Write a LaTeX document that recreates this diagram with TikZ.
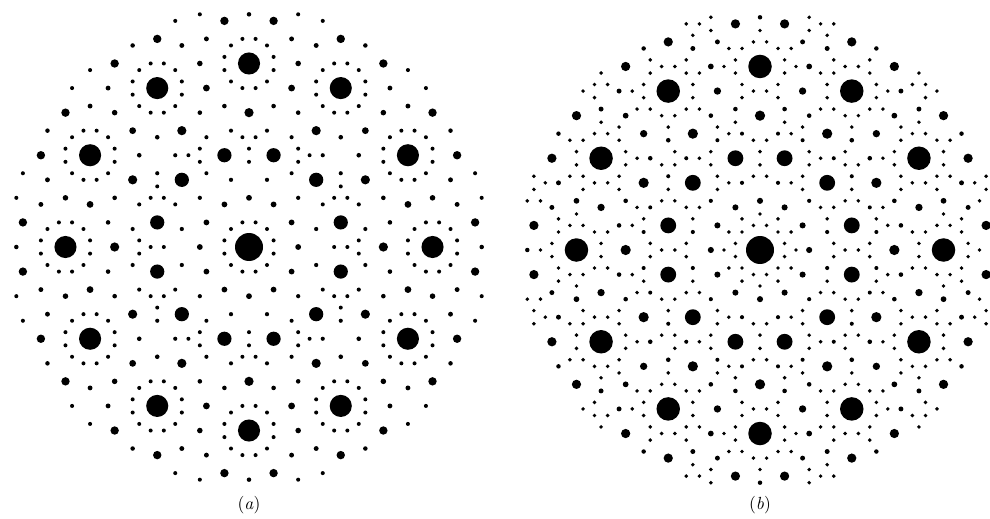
\documentclass[tikz,border=0pt]{standalone}
\usepackage{tikz}
\tikzset{
  spot/.style={fill=black},
  panellabel/.style={font=\fontsize{10}{12}\selectfont, inner sep=0pt}
}

\begin{document}
\begin{tikzpicture}[x=0.2mm, y=-0.2mm]
  \useasboundingbox (0,0) rectangle (990,519);

  % points of the 12-fold Fourier module: basis at 15+30k degrees
  \foreach \i in {-4,...,4}{
    \foreach \j in {-4,...,4}{
      \foreach \k in {-4,...,4}{
        \foreach \l in {-4,...,4}{
          \pgfmathsetmacro\px{0.9659*\i+0.7071*\j+0.2588*\k-0.2588*\l}
          \pgfmathsetmacro\py{0.2588*\i+0.7071*\j+0.9659*\k+0.9659*\l}
          \pgfmathsetmacro\rr{\px*\px+\py*\py}
          \ifdim\rr pt<6.3pt
            \pgfmathsetmacro\qx{0.2588*\i-0.7071*\j+0.9659*\k-0.9659*\l}
            \pgfmathsetmacro\qy{0.9659*\i-0.7071*\j+0.2588*\k+0.2588*\l}
            \pgfmathsetmacro\qq{\qx*\qx+\qy*\qy+0.0001}
            \ifdim\qq pt<19.4pt
              \pgfmathsetmacro\ra{2.0+12.0*exp(-(\qq/1.208)^0.84)}
              \fill[spot] ({249+95*\px},{247-95*\py}) circle[radius=\ra*0.2mm];
            \fi
            \ifdim\qq pt<29.2pt
              \pgfmathsetmacro\rb{1.95+12.05*exp(-(\qq/1.464)^0.93)}
              \fill[spot] ({760+95*\px},{250-95*\py}) circle[radius=\rb*0.2mm];
            \fi
          \fi
        }
      }
    }
  }

  \node[panellabel] (labela) at (249,505) {(\textit{a})};
  \node[panellabel] (labelb) at (760,505) {(\textit{b})};
\end{tikzpicture}
\end{document}
